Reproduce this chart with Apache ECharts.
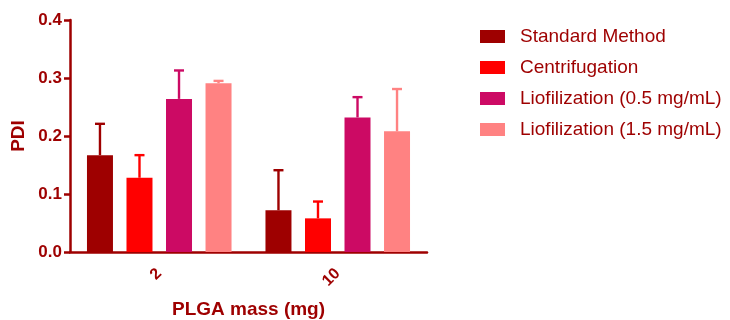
<!DOCTYPE html>
<html>
<head>
<meta charset="utf-8">
<script src="https://cdn.jsdelivr.net/npm/echarts@6/dist/echarts.min.js"></script>
<style>
  html, body { margin: 0; padding: 0; background: #fff; }
  #chart { width: 730px; height: 320px; }
</style>
</head>
<body>
<div id="chart"></div>
<script>
// PDI by PLGA mass for each preparation method (mean with upper SD)
const categories = ['2', '10'];
const seriesNames = ['Standard Method', 'Centrifugation', 'Liofilization (0.5 mg/mL)', 'Liofilization (1.5 mg/mL)'];
const meanValues = [
  [0.167, 0.072],
  [0.128, 0.058],
  [0.264, 0.232],
  [0.291, 0.208]
];
const upperValues = [
  [0.221, 0.141],
  [0.167, 0.087],
  [0.313, 0.267],
  [0.295, 0.281]
];
const yTicks = [0.0, 0.1, 0.2, 0.3, 0.4];

const colors = ['#9e0000', '#ff0000', '#cc0a64', '#ff8282'];
const axisColor = '#9e0000';
const BAR_W = 26;
const BAR_GAP = 0.52; // fraction of bar width
const fontFamily = '"Liberation Sans", Arial, sans-serif';

const chart = echarts.init(document.getElementById('chart'), null, { renderer: 'canvas' });

function errorRenderer(sIdx) {
  return function (params, api) {
    const cat = api.value(0);
    const mean = api.value(1);
    const top = api.value(2);
    const n = seriesNames.length;
    const step = BAR_W * (1 + BAR_GAP);
    const total = n * BAR_W + (n - 1) * BAR_W * BAR_GAP;
    const base = api.coord([cat, mean]);
    const hi = api.coord([cat, top]);
    const cx = base[0] - total / 2 + sIdx * step + BAR_W / 2;
    const capHalf = 5;
    const style = { stroke: colors[sIdx], lineWidth: 2.4 };
    return {
      type: 'group',
      children: [
        { type: 'line', shape: { x1: cx, y1: base[1], x2: cx, y2: hi[1] }, style: style },
        { type: 'line', shape: { x1: cx - capHalf, y1: hi[1], x2: cx + capHalf, y2: hi[1] }, style: style }
      ]
    };
  };
}

const series = [];
seriesNames.forEach(function (name, i) {
  series.push({
    name: name,
    type: 'bar',
    barWidth: BAR_W,
    barGap: (BAR_GAP * 100) + '%',
    itemStyle: { color: colors[i] },
    data: meanValues[i],
    z: 2
  });
});
seriesNames.forEach(function (name, i) {
  series.push({
    name: name + ' SD',
    type: 'custom',
    renderItem: errorRenderer(i),
    data: categories.map(function (c, j) { return [j, meanValues[i][j], upperValues[i][j]]; }),
    encode: { x: 0, y: [1, 2] },
    z: 1,
    silent: true
  });
});

chart.setOption({
  animation: false,
  backgroundColor: '#ffffff',
  grid: { left: 70, right: 303, top: 20, bottom: 68, containLabel: false, outerBoundsMode: 'none' },
  legend: {
    data: seriesNames,
    orient: 'vertical',
    left: 475,
    top: 21,
    itemWidth: 25,
    itemHeight: 13,
    itemGap: 10,
    icon: 'rect',
    textStyle: { color: '#9e0000', fontSize: 19, fontFamily: fontFamily, padding: [0, 0, 0, 10], lineHeight: 21 }
  },
  xAxis: {
    type: 'category',
    data: categories,
    name: 'PLGA mass (mg)',
    nameLocation: 'middle',
    nameGap: 48,
    nameTextStyle: { color: axisColor, fontSize: 19, fontWeight: 'bold', fontFamily: fontFamily },
    axisLine: { lineStyle: { color: axisColor, width: 2.5 } },
    axisTick: { alignWithLabel: true, length: 6, lineStyle: { color: axisColor, width: 2.5 } },
    axisLabel: { color: axisColor, fontSize: 16, fontWeight: 'bold', fontFamily: fontFamily, rotate: 45, margin: 19 }
  },
  yAxis: {
    type: 'value',
    min: yTicks[0],
    max: yTicks[yTicks.length - 1],
    interval: 0.1,
    name: 'PDI',
    nameLocation: 'middle',
    nameGap: 42,
    nameTextStyle: { color: axisColor, fontSize: 19, fontWeight: 'bold', fontFamily: fontFamily },
    axisLine: { show: true, lineStyle: { color: axisColor, width: 2.5 } },
    axisTick: { show: true, length: 6, lineStyle: { color: axisColor, width: 2.5 } },
    splitLine: { show: false },
    axisLabel: {
      color: axisColor, fontSize: 17, fontWeight: 'bold', fontFamily: fontFamily, margin: 8,
      formatter: function (v) { return v.toFixed(1); }
    }
  },
  series: series
});
</script>
</body>
</html>
